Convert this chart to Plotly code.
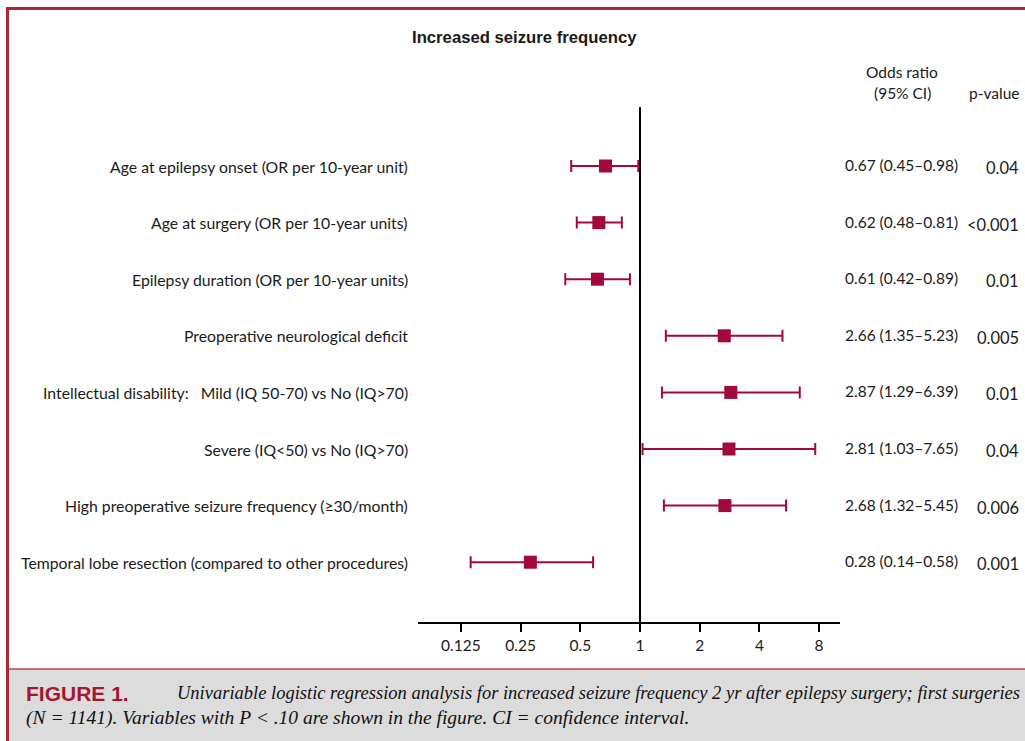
import math
import plotly.graph_objects as go

# Univariable logistic regression results (odds ratio with 95% CI)
variables = [
    "Age at epilepsy onset (OR per 10-year unit)",
    "Age at surgery (OR per 10-year units)",
    "Epilepsy duration (OR per 10-year units)",
    "Preoperative neurological deficit",
    "Intellectual disability:   Mild (IQ 50-70) vs No (IQ>70)",
    "Severe (IQ<50) vs No (IQ>70)",
    "High preoperative seizure frequency (\u226530/month)",
    "Temporal lobe resection (compared to other procedures)",
]
odds_ratio = [0.67, 0.62, 0.61, 2.66, 2.87, 2.81, 2.68, 0.28]
ci_low = [0.45, 0.48, 0.42, 1.35, 1.29, 1.03, 1.32, 0.14]
ci_high = [0.98, 0.81, 0.89, 5.23, 6.39, 7.65, 5.45, 0.58]
p_values = ["0.04", "<0.001", "0.01", "0.005", "0.01", "0.04", "0.006", "0.001"]
tick_values = [0.125, 0.25, 0.5, 1, 2, 4, 8]
tick_labels = ["0.125", "0.25", "0.5", "1", "2", "4", "8"]

W, H = 1025, 741
RED = "#a2093a"
TXT = "#1a1a1a"
LABEL_FONT = "Lato, Open Sans, sans-serif"

rows = list(range(len(variables)))


def px_x(p):
    return p / W


def px_y(p):
    return (H - p) / H


# pixel geometry of the plotting area
axis_left, axis_right, axis_y = 418, 840, 622
one_px, px_per_doubling = 640, 59.7
row0_px, row_step = 166, 56.6

x_lo = math.log10(2 ** ((axis_left - one_px) / px_per_doubling))
x_hi = math.log10(2 ** ((axis_right - one_px) / px_per_doubling))
y_top = -row0_px / row_step
y_bot = (axis_y - row0_px) / row_step

fig = go.Figure()

fig.add_trace(go.Scatter(
    x=odds_ratio,
    y=rows,
    mode="markers",
    marker=dict(symbol="square", size=13, color=RED),
    error_x=dict(
        type="data",
        symmetric=False,
        array=[h - o for h, o in zip(ci_high, odds_ratio)],
        arrayminus=[o - l for o, l in zip(odds_ratio, ci_low)],
        color=RED,
        thickness=2,
        width=6,
    ),
    showlegend=False,
    hoverinfo="skip",
))

annotations = []
for r, name, o, lo, hi, p in zip(rows, variables, odds_ratio, ci_low, ci_high, p_values):
    annotations.append(dict(
        x=px_x(410), y=r, xref="paper", yref="y", text=name,
        xanchor="right", yanchor="middle", showarrow=False,
        font=dict(family=LABEL_FONT, size=15.8, color=TXT),
    ))
    annotations.append(dict(
        x=px_x(901), y=r, xref="paper", yref="y",
        text=f"{o:.2f} ({lo:.2f}\u2013{hi:.2f})",
        xanchor="center", yanchor="middle", showarrow=False, yshift=1,
        font=dict(family=LABEL_FONT, size=15.5, color=TXT),
    ))
    annotations.append(dict(
        x=px_x(1021), y=r, xref="paper", yref="y", text=p,
        xanchor="right", yanchor="middle", showarrow=False, yshift=-2,
        font=dict(family=LABEL_FONT, size=16.5, color=TXT),
    ))

# column headers and title
annotations += [
    dict(x=px_x(524), y=px_y(37), xref="paper", yref="paper",
         text="<b>Increased seizure frequency</b>", showarrow=False,
         xanchor="center", yanchor="middle",
         font=dict(family="Liberation Sans, Arial, sans-serif", size=16.7, color=TXT)),
    dict(x=px_x(902), y=px_y(72), xref="paper", yref="paper",
         text="Odds ratio", showarrow=False, xanchor="center", yanchor="middle",
         font=dict(family=LABEL_FONT, size=15.5, color=TXT)),
    dict(x=px_x(902), y=px_y(93), xref="paper", yref="paper",
         text="(95% CI)", showarrow=False, xanchor="center", yanchor="middle",
         font=dict(family=LABEL_FONT, size=15.5, color=TXT)),
    dict(x=px_x(1021), y=px_y(93), xref="paper", yref="paper",
         text="p-value", showarrow=False, xanchor="right", yanchor="middle",
         font=dict(family=LABEL_FONT, size=15.5, color=TXT)),
]

# figure caption
annotations += [
    dict(x=px_x(24), y=px_y(693), xref="paper", yref="paper",
         text="<b>FIGURE 1.</b>", showarrow=False, xanchor="left", yanchor="middle",
         font=dict(family="Liberation Sans Narrow, Liberation Sans, sans-serif",
                   size=21, color="#a3172f")),
    dict(x=px_x(175), y=px_y(693), xref="paper", yref="paper",
         text="<i>Univariable logistic regression analysis for increased seizure frequency "
              "2 yr after epilepsy surgery; first surgeries</i>",
         showarrow=False, xanchor="left", yanchor="middle",
         font=dict(family="Liberation Serif, serif", size=18.5, color="#111111")),
    dict(x=px_x(24), y=px_y(718), xref="paper", yref="paper",
         text="<i>(N = 1141). Variables with P &lt; .10 are shown in the figure. "
              "CI = confidence interval.</i>",
         showarrow=False, xanchor="left", yanchor="middle",
         font=dict(family="Liberation Serif, serif", size=19.5, color="#111111")),
]

shapes = [
    # caption panel
    dict(type="rect", xref="paper", yref="paper",
         x0=px_x(7), x1=1, y0=0, y1=px_y(669),
         fillcolor="#dcdcdc", line=dict(width=0), layer="below"),
    dict(type="line", xref="paper", yref="paper",
         x0=px_x(7), x1=1, y0=px_y(669), y1=px_y(669),
         line=dict(color="#c0414f", width=1.5)),
    # frame
    dict(type="line", xref="paper", yref="paper",
         x0=px_x(6), x1=1, y0=px_y(8.5), y1=px_y(8.5),
         line=dict(color="#b0262e", width=3)),
    dict(type="line", xref="paper", yref="paper",
         x0=px_x(7.5), x1=px_x(7.5), y0=0, y1=px_y(7),
         line=dict(color="#b0262e", width=3)),
    # line of no effect
    dict(type="line", xref="x", yref="paper",
         x0=1, x1=1, y0=px_y(axis_y), y1=px_y(107),
         line=dict(color="black", width=2)),
]

fig.update_layout(
    width=W, height=H,
    margin=dict(l=0, r=0, t=0, b=0),
    paper_bgcolor="white", plot_bgcolor="rgba(0,0,0,0)",
    annotations=annotations,
    shapes=shapes,
    xaxis=dict(
        type="log",
        domain=[px_x(axis_left), px_x(axis_right)],
        range=[x_lo, x_hi],
        tickvals=tick_values, ticktext=tick_labels,
        ticks="outside", ticklen=8, tickwidth=2, tickcolor="black",
        showline=True, linecolor="black", linewidth=2,
        showgrid=False, zeroline=False,
        tickfont=dict(family=LABEL_FONT, size=15.5, color=TXT),
        fixedrange=True,
    ),
    yaxis=dict(
        domain=[px_y(axis_y), 1],
        range=[y_bot, y_top],
        visible=False, showgrid=False, zeroline=False,
        fixedrange=True,
    ),
)

fig.write_html("out.html")
